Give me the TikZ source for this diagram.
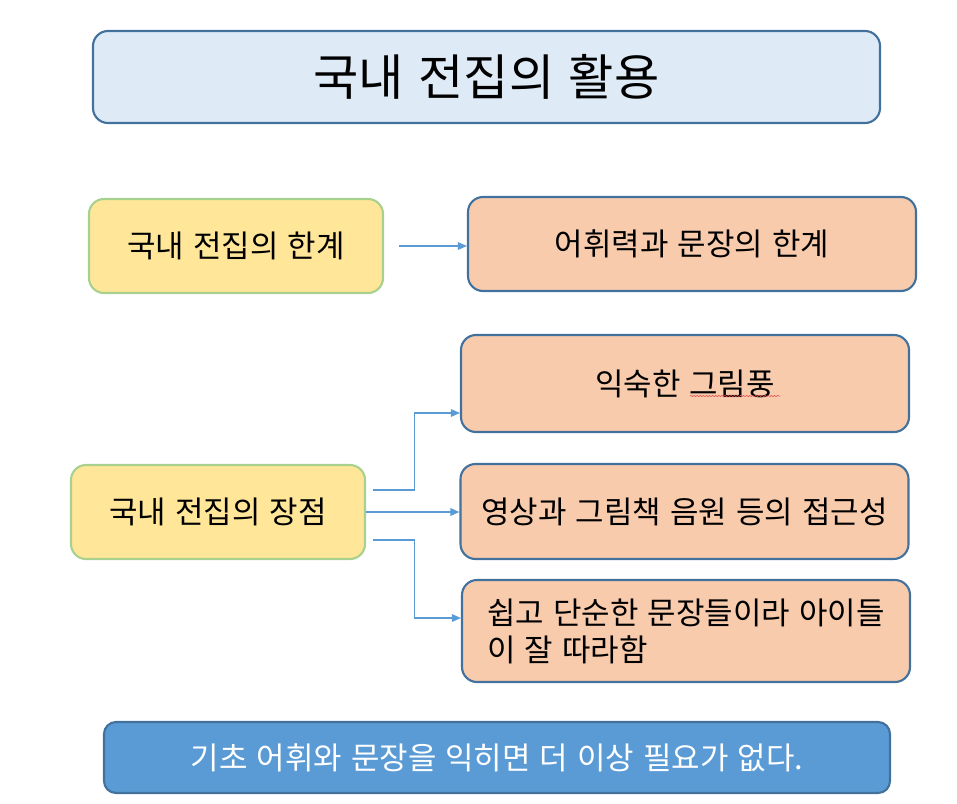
\documentclass[tikz,border=0pt]{standalone}
\usepackage{fontspec}
\setmainfont{Noto Sans CJK KR}[WordSpace=1.3]
\usepackage{tikz}
\usetikzlibrary{arrows.meta,positioning,decorations.pathmorphing}
\definecolor{frame}{HTML}{41719C}
\definecolor{titlefill}{HTML}{DEEBF7}
\definecolor{yellowfill}{HTML}{FFE699}
\definecolor{yellowline}{HTML}{A9D18E}
\definecolor{peachfill}{HTML}{F8CBAD}
\definecolor{bluefill}{HTML}{5B9BD5}
\definecolor{arrowblue}{HTML}{5B9BD5}
\definecolor{spellred}{HTML}{E05050}
\newlength\px
\setlength\px{0.025cm}
\tikzset{
  >={Triangle[length=6.5pt,width=5.5pt]},
  flow/.style={->,draw=arrowblue,line width=.75pt},
  titlebox/.style={draw=frame,fill=titlefill,rounded corners=15\px,line width=1.5pt,
                   minimum width=787\px,minimum height=92\px,font=\fontsize{35}{40}\selectfont},
  keybox/.style={draw=yellowline,fill=yellowfill,rounded corners=15\px,line width=1.5pt,
                 minimum width=294\px,minimum height=94\px,font=\fontsize{22}{26}\selectfont},
  itembox/.style={draw=frame,fill=peachfill,rounded corners=15\px,line width=1.5pt,
                  minimum width=448\px,align=left,font=\fontsize{22}{26.3}\selectfont},
  footbox/.style={draw=frame,fill=bluefill,rounded corners=12\px,line width=1.5pt,
                  minimum width=786\px,minimum height=71\px,text=white,font=\fontsize{22}{26}\selectfont},
}
\begin{document}
\begin{tikzpicture}[x=0.025cm,y=-0.025cm]
  \useasboundingbox (0,0) rectangle (957,803);
  \node[titlebox] (title) at (486.5,77) {국내 전집의 활용};

  % limits
  \node[keybox] (lim) at (236,246) {국내 전집의 한계};
  \node[itembox,minimum height=94\px] (limr) at (692,244) {어휘력과 문장의 한계};
  \draw[flow,shorten <=15\px] (lim.east) -- (lim.east -| limr.west);

  % merits
  \node[keybox] (adv) at (218,512) {국내 전집의 장점};
  \node[itembox,minimum height=97\px] (fam) at (685,383.5) {익숙한 그림풍};
  \node[itembox,minimum height=95\px] (acc) at (684.5,511.5) {영상과 그림책 음원 등의 접근성};
  \node[itembox,minimum height=102\px] (easy) at (686,631) {쉽고 단순한 문장들이라 아이들\\이 잘 따라함};
  \draw[spellred,line width=.4pt,decorate,decoration={snake,amplitude=.45pt,segment length=2.2pt}]
    (690,396) -- (780,396);
  \draw[flow] ([xshift=7\px,yshift=22\px]adv.east) -- ++(41,0) |- ([yshift=-29.5\px]fam.west);
  \draw[flow] (adv.east) -- (adv.east -| acc.west);
  \draw[flow] ([xshift=7\px,yshift=-28\px]adv.east) -- ++(41,0) |- ([yshift=13\px]easy.west);

  \node[footbox] (foot) at (497,757.5) {기초 어휘와 문장을 익히면 더 이상 필요가 없다.};
\end{tikzpicture}
\end{document}
